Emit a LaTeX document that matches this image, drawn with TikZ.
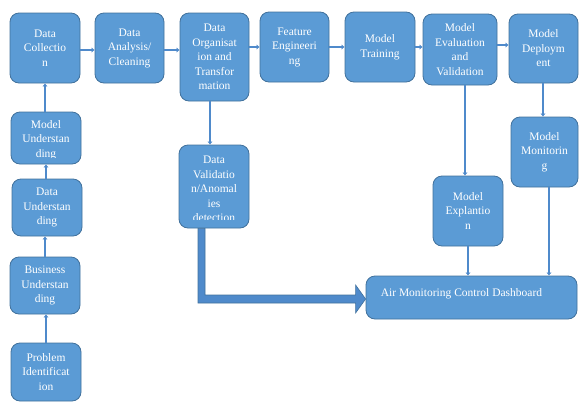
\documentclass[tikz,border=0pt]{standalone}
\usepackage{fontspec}
\setmainfont{Liberation Serif}
\usetikzlibrary{arrows.meta,calc}
\definecolor{boxfill}{HTML}{5B9BD5}
\definecolor{boxline}{HTML}{41719C}
\definecolor{linkblue}{HTML}{4F8ACB}
\tikzset{
  stepbox/.style={draw=boxline, line width=0.8pt, fill=boxfill, rounded corners=9pt,
    inner sep=0pt, text=white, align=center,
    font=\fontsize{11.5}{14.5}\selectfont},
  boxtext/.style={text=white, align=center, inner sep=0pt,
    font=\fontsize{11.5}{14.5}\selectfont},
  link/.style={draw=linkblue, line width=2.4pt,
    -{Latex[length=3pt,width=5.5pt]}},
  fatarrow/.style={fill=linkblue, draw=boxline, line width=0.6pt, line join=miter}
}
\begin{document}
\begin{tikzpicture}[x=1pt,y=-1pt]
\useasboundingbox (0,0) rectangle (579,402);

% top row
\node[stepbox, minimum width=70, minimum height=70] (dc) at (45,48) {Data\\Collectio\\n};
\node[stepbox, minimum width=69, minimum height=70] (da) at (129.5,48) {Data\\Analysis/\\Cleaning};
\node[stepbox, minimum width=69, minimum height=88] (dorg) at (214.5,57) {Data\\Organisat\\ion and\\Transfor\\mation};
\node[stepbox, minimum width=69, minimum height=70] (fe) at (294.5,47) {\raisebox{4pt}{\parbox{60pt}{\centering Feature\\Engineeri\\ng}}};
\node[stepbox, minimum width=70, minimum height=70] (mt) at (380,47) {\raisebox{4pt}{\parbox{60pt}{\centering Model\\Training}}};
\node[stepbox, minimum width=74, minimum height=71] (me) at (460,49.5) {Model\\Evaluation\\and\\Validation};
\node[stepbox, minimum width=69, minimum height=69] (md) at (543.5,48.5) {Model\\Deploym\\ent};

% left column
\node[stepbox, minimum width=70, minimum height=52] (mu) at (46,138) {};
\begin{scope}
  \clip ($(mu.south west)+(0,-7)$) rectangle (mu.north east);
  \node[boxtext] (mutext) at (46,140) {Model\\Understan\\ding};
\end{scope}
\node[stepbox, minimum width=70, minimum height=57] (du) at (47,207.5) {Data\\Understan\\ding};
\node[stepbox, minimum width=70, minimum height=57] (bu) at (45,285.5) {Business\\Understan\\ding};
\node[stepbox, minimum width=70, minimum height=58] (pi) at (46,372) {Problem\\Identificat\\ion};

% data validation
\node[stepbox, minimum width=70, minimum height=83] (dv) at (214,186.5) {};
\begin{scope}
  \clip ($(dv.south west)+(0,-9)$) rectangle (dv.north east);
  \node[boxtext] (dvtext) at (214,189) {Data\\Validatio\\n/Anomal\\ies\\detection};
\end{scope}

% right side
\node[stepbox, minimum width=67, minimum height=70] (mmon) at (544.5,152) {\raisebox{4pt}{\parbox{60pt}{\centering Model\\Monitorin\\g}}};
\node[stepbox, minimum width=70, minimum height=70] (mex) at (468,211) {\raisebox{3pt}{\parbox{60pt}{\centering Model\\Explantio\\n}}};
\node[stepbox, minimum width=211, minimum height=43] (dash) at (471.5,297.5) {};
\node[boxtext, anchor=west] (dashtext) at ($(dash.west)+(15,-4)$) {Air Monitoring Control Dashboard};

% main flow
\draw[link] (dc.east |- 0,50) -- (da.west |- 0,50);
\draw[link] (da.east |- 0,50) -- (dorg.west |- 0,50);
\draw[link] (dorg.east |- fe.west) -- (fe.west);
\draw[link] (fe.east) -- (mt.west);
\draw[link] (mt.east) -- (mt.east -| me.west);
\draw[link] (me.east |- 0,45) -- (md.west |- 0,45);

% understanding chain, bottom up
\draw[link] (pi.north) -- (pi.north |- bu.south);
\draw[link] (bu.north) -- (bu.north |- du.south);
\draw[link] (du.north -| mu.south) -- (mu.south);
\draw[link] (mu.north -| dc.south) -- (dc.south);

% downward branches
\draw[link] (dorg.south -| 210,0) -- (dv.north -| 210,0);
\draw[link] (me.south -| 465,0) -- (mex.north -| 465,0);
\draw[link] (md.south -| 543,0) -- (mmon.north -| 543,0);
\draw[link] (mex.south) -- (mex.south |- dash.north);
\draw[link] (mmon.south -| 549,0) -- (dash.north -| 549,0);

% wide arrow from validation to the dashboard
\coordinate (ts) at ($(dv.south)+(-12.5,0)$);
\coordinate (tip) at ($(dash.west)+(0,1.5)$);
\filldraw[fatarrow] ($(ts)+(-3.5,0)$) -- ($(ts)+(3.5,0)$) |- ($(tip)+(-10,-4)$)
  -- ($(tip)+(-10,-14)$) -- (tip) -- ($(tip)+(-10,14)$) -- ($(tip)+(-10,4)$)
  -| ($(ts)+(-3.5,0)$) -- cycle;
\end{tikzpicture}
\end{document}
